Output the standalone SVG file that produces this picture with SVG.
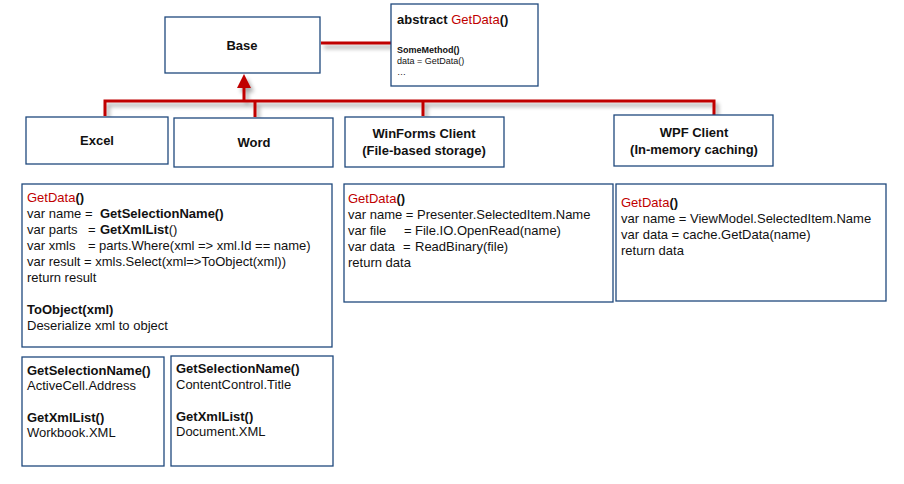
<svg xmlns="http://www.w3.org/2000/svg" width="904" height="484" viewBox="0 0 904 484">
<style>
.box{fill:#fff;stroke:#1F497D;stroke-width:1.3}
.lbl{font-family:"Liberation Sans",Arial,sans-serif;font-size:13px;font-weight:bold;fill:#111;text-anchor:middle}
.code{font-family:"Liberation Sans",Arial,sans-serif;font-size:13px;fill:#111}
.b{font-weight:bold}
.r{fill:#C00000;font-weight:normal}
.small{font-family:"Liberation Sans",Arial,sans-serif;font-size:9px;fill:#111}
.conn{fill:none;stroke:#C00000;stroke-width:3}
</style>
<defs>
<filter id="sh" x="-10%" y="-50%" width="120%" height="300%">
<feGaussianBlur in="SourceAlpha" stdDeviation="2"/>
<feOffset dx="3" dy="4" result="o"/>
<feComponentTransfer><feFuncA type="linear" slope="0.35"/></feComponentTransfer>
<feMerge><feMergeNode/><feMergeNode in="SourceGraphic"/></feMerge>
</filter>
</defs>
<rect width="904" height="484" fill="#fff"/>
<g id="connectors" filter="url(#sh)">
<path class="conn" d="M321 43 H391"/>
<path class="conn" d="M105 116 V101 H714 V116"/>
<path class="conn" d="M255 101 V117"/>
<path class="conn" d="M423 101 V116"/>
<path class="conn" d="M244 101 V87"/>
<polygon points="244,74 237,88 251,88" fill="#C00000"/>
</g>
<g id="base">
<rect class="box" x="165" y="17" width="155" height="56"/>
<text class="lbl" x="242" y="50">Base</text>
</g>
<g id="abstract">
<rect class="box" x="391" y="4" width="147" height="82"/>
<text class="code b" x="397" y="24">abstract <tspan class="r">GetData</tspan>()</text>
<text class="small b" x="397" y="53">SomeMethod()</text>
<text class="small" x="397" y="64">data = GetData()</text>
<text class="small" x="397" y="75">…</text>
</g>
<g id="excel">
<rect class="box" x="26" y="117" width="142" height="47"/>
<text class="lbl" x="97" y="145">Excel</text>
</g>
<g id="word">
<rect class="box" x="174" y="118" width="159" height="49"/>
<text class="lbl" x="254" y="147">Word</text>
</g>
<g id="winforms">
<rect class="box" x="345" y="117" width="159" height="50"/>
<text class="lbl" x="424" y="138">WinForms Client</text>
<text class="lbl" x="424" y="155">(File-based storage)</text>
</g>
<g id="wpf">
<rect class="box" x="614" y="115" width="159" height="51"/>
<text class="lbl" x="694" y="137">WPF Client</text>
<text class="lbl" x="694" y="154">(In-memory caching)</text>
</g>
<g id="shared-code">
<rect class="box" x="22" y="184" width="310" height="163"/>
<text class="code b" x="27" y="202"><tspan class="r">GetData</tspan>()</text>
<text class="code" x="27" y="218">var name<tspan x="85">=</tspan><tspan x="100" class="b">GetSelectionName()</tspan></text>
<text class="code" x="27" y="234">var parts<tspan x="88">=</tspan><tspan x="100" class="b">GetXmlList</tspan>()</text>
<text class="code" x="27" y="250">var xmls<tspan x="88">=</tspan><tspan x="99">parts.Where(xml =&gt; xml.Id == name)</tspan></text>
<text class="code" x="27" y="266">var result = xmls.Select(xml=&gt;ToObject(xml))</text>
<text class="code" x="27" y="282">return result</text>
<text class="code b" x="27" y="314">ToObject(xml)</text>
<text class="code" x="27" y="330">Deserialize xml to object</text>
</g>
<g id="winforms-code">
<rect class="box" x="344" y="184" width="269" height="118"/>
<text class="code b" x="348" y="203"><tspan class="r">GetData</tspan>()</text>
<text class="code" x="348" y="219">var name = Presenter.SelectedItem.Name</text>
<text class="code" x="348" y="235">var file<tspan x="404">=</tspan><tspan x="415">File.IO.OpenRead(name)</tspan></text>
<text class="code" x="348" y="251">var data<tspan x="403">=</tspan><tspan x="415">ReadBinary(file)</tspan></text>
<text class="code" x="348" y="267">return data</text>
</g>
<g id="wpf-code">
<rect class="box" x="616" y="184" width="270" height="117"/>
<text class="code b" x="621" y="207"><tspan class="r">GetData</tspan>()</text>
<text class="code" x="621" y="223">var name = ViewModel.SelectedItem.Name</text>
<text class="code" x="621" y="239">var data = cache.GetData(name)</text>
<text class="code" x="621" y="255">return data</text>
</g>
<g id="excel-code">
<rect class="box" x="22" y="357" width="142" height="109"/>
<text class="code b" x="27" y="375">GetSelectionName()</text>
<text class="code" x="27" y="390">ActiveCell.Address</text>
<text class="code b" x="27" y="422">GetXmlList()</text>
<text class="code" x="27" y="437">Workbook.XML</text>
</g>
<g id="word-code">
<rect class="box" x="171" y="356" width="162" height="110"/>
<text class="code b" x="176" y="373">GetSelectionName()</text>
<text class="code" x="176" y="389">ContentControl.Title</text>
<text class="code b" x="176" y="421">GetXmlList()</text>
<text class="code" x="176" y="436">Document.XML</text>
</g>
</svg>
